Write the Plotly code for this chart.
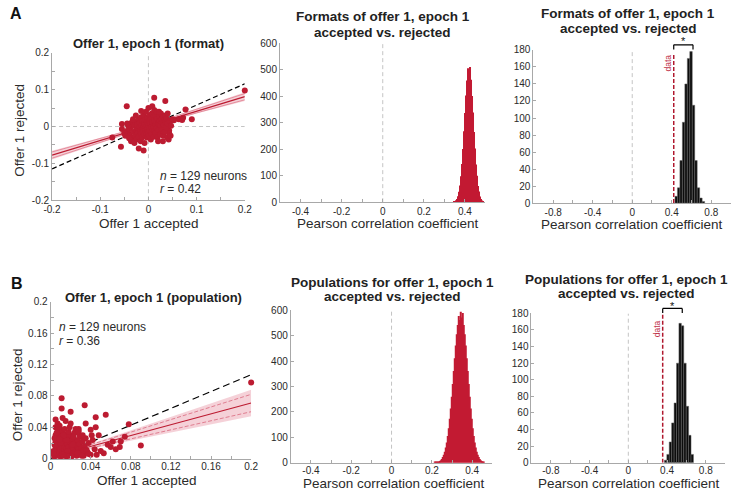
import plotly.graph_objects as go

W, H = 740, 497
FONT = "Liberation Sans, Arial, sans-serif"
RED = "#BC1B31"
HRED = "#C21A33"
BAND = "rgba(220, 90, 115, 0.28)"
AXC = "#a8a8a8"
TXT = "#2a2a2a"

# ---------------- data ----------------
# Panel A scatter (format), offer 1 accepted vs rejected
scA_x = [0.200, -0.045, 0.012, 0.035, 0.090, 0.077, -0.075, -0.057, -0.020, -0.010,
         -0.055, -0.055, 0.063, 0.070, 0.053, 0.043, 0.043, 0.042, 0.030, 0.072,
         -0.040, -0.038, -0.035, -0.033, -0.030, -0.030, -0.028, -0.027, -0.025, -0.025,
         -0.023, -0.022, -0.020, -0.020, -0.019, -0.018, -0.017, -0.016, -0.015, -0.015,
         -0.014, -0.013, -0.012, -0.012, -0.011, -0.010, -0.010, -0.009, -0.008, -0.008,
         -0.007, -0.006, -0.005, -0.005, -0.004, -0.003, -0.003, -0.002, -0.002, -0.001,
         0.000, 0.000, 0.001, 0.001, 0.002, 0.003, 0.003, 0.004, 0.005, 0.005,
         0.006, 0.007, 0.007, 0.008, 0.009, 0.010, 0.010, 0.011, 0.012, 0.012,
         0.013, 0.014, 0.015, 0.015, 0.016, 0.017, 0.018, 0.018, 0.019, 0.020,
         0.021, 0.022, 0.023, 0.024, 0.025, 0.026, 0.027, 0.028, 0.029, 0.030,
         0.031, 0.032, 0.033, 0.034, 0.035, 0.036, 0.037, 0.038, 0.039, 0.040,
         -0.045, -0.042, -0.048, -0.036, -0.032, -0.026, -0.044, 0.045, 0.047, 0.046,
         -0.050, 0.040, -0.029, 0.020, 0.008, -0.015, 0.050, -0.040, 0.022]
scA_y = [0.098, 0.055, 0.078, 0.069, 0.020, 0.046, -0.030, -0.055, -0.060, -0.065,
         0.007, -0.007, 0.020, 0.018, 0.017, -0.011, -0.018, -0.035, -0.040, 0.024,
         -0.020, -0.005, 0.010, -0.030, -0.015, 0.002, -0.025, 0.012, -0.008, -0.035,
         0.005, -0.018, 0.020, -0.028, -0.002, 0.010, -0.012, -0.040, 0.025, -0.020,
         0.003, -0.030, 0.015, -0.008, -0.015, 0.030, -0.002, -0.022, 0.008, -0.045,
         0.018, -0.010, 0.040, -0.018, 0.002, -0.030, 0.012, 0.025, -0.006, -0.015,
         0.005, 0.050, -0.025, 0.015, -0.004, 0.030, -0.012, 0.008, -0.035, 0.020,
         -0.002, 0.035, -0.020, 0.012, -0.008, 0.025, 0.000, -0.028, 0.018, 0.045,
         -0.012, 0.006, 0.030, -0.018, 0.015, -0.004, 0.040, 0.022, -0.030, 0.008,
         -0.010, 0.028, 0.015, -0.022, 0.002, 0.035, 0.020, -0.008, 0.010, 0.025,
         -0.025, 0.005, 0.018, -0.015, 0.030, 0.012, -0.003, 0.022, -0.030, 0.008,
         -0.012, 0.002, -0.025, -0.040, 0.020, 0.030, 0.008, 0.015, 0.002, -0.025,
         -0.018, 0.035, -0.045, -0.040, 0.055, 0.042, 0.020, -0.032, 0.040]

# Panel B scatter (population)
scB_x = [0.200, 0.011, 0.011, 0.020, 0.034, 0.005, 0.045, 0.055, 0.040, 0.025,
         0.028, 0.078, 0.074, 0.062, 0.069, 0.070, 0.090, 0.060, 0.053, 0.046,
         0.037, 0.040, 0.033, 0.048, 0.045, 0.035, 0.005, 0.030, 0.038, 0.042,
         0.004, 0.005, 0.005, 0.005, 0.005, 0.006, 0.006, 0.006, 0.007, 0.007,
         0.008, 0.008, 0.008, 0.008, 0.009, 0.009, 0.009, 0.010, 0.010, 0.010,
         0.011, 0.011, 0.011, 0.012, 0.012, 0.012, 0.013, 0.013, 0.013, 0.014,
         0.014, 0.015, 0.015, 0.015, 0.016, 0.016, 0.017, 0.017, 0.018, 0.018,
         0.019, 0.019, 0.020, 0.020, 0.021, 0.022, 0.022, 0.023, 0.024, 0.024,
         0.025, 0.026, 0.026, 0.027, 0.028, 0.029, 0.030, 0.031, 0.032, 0.033,
         0.004, 0.004, 0.006, 0.007, 0.009, 0.012, 0.014, 0.016, 0.018, 0.021,
         0.023, 0.025, 0.027, 0.029, 0.031, 0.034, 0.035, 0.036, 0.038, 0.003,
         0.010, 0.013, 0.017, 0.019, 0.022, 0.028, 0.032, 0.015, 0.009, 0.006,
         0.044, 0.050, 0.041, 0.057, 0.065, 0.012, 0.020, 0.003, 0.008]
scB_y = [0.097, 0.077, 0.064, 0.060, 0.068, 0.050, 0.053, 0.056, 0.037, 0.036,
         0.038, 0.044, 0.028, 0.022, 0.015, 0.022, 0.017, 0.015, 0.007, 0.005,
         0.008, 0.005, 0.004, 0.030, 0.040, 0.045, 0.040, 0.028, 0.020, 0.024,
         0.003, 0.008, 0.015, 0.022, 0.030, 0.005, 0.012, 0.026, 0.018, 0.034,
         0.004, 0.010, 0.021, 0.028, 0.007, 0.015, 0.032, 0.003, 0.012, 0.024,
         0.006, 0.018, 0.029, 0.009, 0.014, 0.036, 0.004, 0.020, 0.026, 0.011,
         0.016, 0.007, 0.023, 0.031, 0.003, 0.013, 0.019, 0.027, 0.008, 0.015,
         0.005, 0.022, 0.011, 0.030, 0.017, 0.006, 0.025, 0.013, 0.020, 0.033,
         0.009, 0.016, 0.004, 0.024, 0.012, 0.019, 0.006, 0.014, 0.022, 0.010,
         0.018, 0.026, 0.040, 0.045, 0.042, 0.005, 0.038, 0.024, 0.034, 0.003,
         0.028, 0.038, 0.007, 0.030, 0.004, 0.016, 0.026, 0.011, 0.006, 0.010,
         0.020, 0.030, 0.010, 0.040, 0.018, 0.035, 0.030, 0.048, 0.025, 0.033,
         0.012, 0.010, 0.030, 0.018, 0.012, 0.052, 0.045, 0.006, 0.040]

# Regression fits
fitA_x = [-0.2, -0.1, 0.0, 0.1, 0.2]
fitA_y = [-0.0775, -0.038, 0.002, 0.042, 0.081]
fitA_hw = [0.012, 0.007, 0.003, 0.007, 0.012]
unityA_x = [-0.2, 0.2]
unityA_y = [-0.115, 0.116]

fitB_x = [0.0, 0.025, 0.05, 0.1, 0.15, 0.2]
fitB_y = [0.002, 0.0106, 0.0193, 0.0365, 0.0538, 0.071]
fitB_hw = [0.004, 0.003, 0.004, 0.008, 0.0125, 0.017]
unityB_x = [0.0, 0.2]
unityB_y = [0.0, 0.107]

# Panel A middle histogram (Pearson r, formats)
hA_x = [0.345, 0.350, 0.355, 0.360, 0.365, 0.370, 0.375, 0.380, 0.385, 0.390,
        0.395, 0.400, 0.405, 0.410, 0.415, 0.420, 0.425, 0.430, 0.435, 0.440,
        0.445, 0.450, 0.455, 0.460, 0.465, 0.470, 0.475, 0.480, 0.485, 0.490]
hA_y = [2, 3, 7, 12, 22, 39, 63, 98, 144, 200,
        267, 336, 402, 459, 505, 496, 510, 462, 400, 338,
        265, 202, 142, 100, 61, 40, 21, 12, 6, 3]

# Panel A right histogram (shuffled control)
cA_x = [0.445, 0.470, 0.495, 0.520, 0.545, 0.570, 0.595, 0.620, 0.645, 0.670, 0.695, 0.720]
cA_y = [8, 18, 50, 95, 140, 170, 178, 115, 50, 18, 6, 2]
dataA_r = 0.42
sigA_end = 0.615

# Panel B middle histogram (Pearson r, populations)
hB_x = [0.215, 0.220, 0.225, 0.230, 0.235, 0.240, 0.245, 0.250, 0.255, 0.260,
        0.265, 0.270, 0.275, 0.280, 0.285, 0.290, 0.295, 0.300, 0.305, 0.310,
        0.315, 0.320, 0.325, 0.330, 0.335, 0.340, 0.345, 0.350, 0.355, 0.360,
        0.365, 0.370, 0.375, 0.380, 0.385, 0.390, 0.395, 0.400, 0.405, 0.410,
        0.415, 0.420, 0.425, 0.430, 0.435, 0.440, 0.445, 0.450, 0.455, 0.460]
hB_y = [1, 1, 2, 3, 4, 7, 10, 15, 22, 31,
        43, 60, 80, 105, 136, 173, 214, 260, 310, 361,
        412, 462, 506, 543, 578, 562, 595, 572, 590, 543,
        506, 462, 412, 361, 310, 260, 214, 173, 136, 105,
        80, 60, 43, 31, 22, 15, 10, 7, 4, 2]

# Panel B right histogram (shuffled control)
cB_x = [0.385, 0.410, 0.435, 0.460, 0.485, 0.510, 0.535, 0.560, 0.585, 0.610, 0.635, 0.660]
cB_y = [3, 10, 25, 48, 72, 120, 168, 165, 120, 68, 33, 10]
dataB_r = 0.355
sigB_end = 0.557

# ---------------- layout helpers ----------------
def px_x(p):
    return p / W

def px_y(p):
    return 1 - p / H

# pixel boxes (left, right, top, bottom)
BOX = {
    1: (44, 241, 48, 199),
    2: (277, 487, 38, 201),
    3: (536, 738, 45, 202),
    4: (42.5, 247.5, 303, 464),
    5: (288, 494, 312, 468),
    6: (534, 732, 315, 468),
}

def mk_axes(i, xr, yr, xt, xl, yt, yl, xstandoff=0):
    l, r, t, b = BOX[i]
    common = dict(showline=True, linecolor=AXC, linewidth=1, ticks="inside", ticklen=3,
                  tickcolor=AXC, showgrid=False, zeroline=False, fixedrange=True,
                  tickfont=dict(size=10, color=TXT, family=FONT))
    xa = dict(domain=[px_x(l), px_x(r)], range=xr, tickvals=xt, ticktext=xl,
              anchor="y" + ("" if i == 1 else str(i)), ticklabelstandoff=xstandoff, **common)
    ya = dict(domain=[px_y(b), px_y(t)], range=yr, tickvals=yt, ticktext=yl,
              anchor="x" + ("" if i == 1 else str(i)), **common)
    return xa, ya

fig = go.Figure()

def ref(i):
    s = "" if i == 1 else str(i)
    return "x" + s, "y" + s

# ---- A scatter ----
xa, ya = ref(1)
lowA = [y - h for y, h in zip(fitA_y, fitA_hw)]
upA = [y + h for y, h in zip(fitA_y, fitA_hw)]
fig.add_trace(go.Scatter(x=fitA_x, y=lowA, mode="lines", line=dict(width=0), xaxis=xa, yaxis=ya, hoverinfo="skip"))
fig.add_trace(go.Scatter(x=fitA_x, y=upA, mode="lines", line=dict(width=0), fill="tonexty",
                         fillcolor=BAND, xaxis=xa, yaxis=ya, hoverinfo="skip"))
fig.add_trace(go.Scatter(x=fitA_x, y=[y - 0.7 * h for y, h in zip(fitA_y, fitA_hw)], mode="lines",
                         line=dict(width=0.8, color="#e07a8c"), xaxis=xa, yaxis=ya))
fig.add_trace(go.Scatter(x=fitA_x, y=[y + 0.7 * h for y, h in zip(fitA_y, fitA_hw)], mode="lines",
                         line=dict(width=0.8, color="#e07a8c"), xaxis=xa, yaxis=ya))
fig.add_trace(go.Scatter(x=unityA_x, y=unityA_y, mode="lines",
                         line=dict(width=1.2, color="black", dash="5px,3px"), xaxis=xa, yaxis=ya))
fig.add_trace(go.Scatter(x=scA_x, y=scA_y, mode="markers", cliponaxis=False,
                         marker=dict(size=6, color=RED), xaxis=xa, yaxis=ya))
fig.add_trace(go.Scatter(x=fitA_x, y=fitA_y, mode="lines", line=dict(width=1.2, color=RED),
                         xaxis=xa, yaxis=ya))

# ---- B scatter ----
xa, ya = ref(4)
lowB = [y - h for y, h in zip(fitB_y, fitB_hw)]
upB = [y + h for y, h in zip(fitB_y, fitB_hw)]
fig.add_trace(go.Scatter(x=fitB_x, y=lowB, mode="lines", line=dict(width=0), xaxis=xa, yaxis=ya, hoverinfo="skip"))
fig.add_trace(go.Scatter(x=fitB_x, y=upB, mode="lines", line=dict(width=0), fill="tonexty",
                         fillcolor=BAND, xaxis=xa, yaxis=ya, hoverinfo="skip"))
fig.add_trace(go.Scatter(x=fitB_x, y=[y - 0.65 * h for y, h in zip(fitB_y, fitB_hw)], mode="lines",
                         line=dict(width=0.8, color="#d9687e", dash="4px,2px"), xaxis=xa, yaxis=ya))
fig.add_trace(go.Scatter(x=fitB_x, y=[y + 0.65 * h for y, h in zip(fitB_y, fitB_hw)], mode="lines",
                         line=dict(width=0.8, color="#d9687e", dash="4px,2px"), xaxis=xa, yaxis=ya))
fig.add_trace(go.Scatter(x=unityB_x, y=unityB_y, mode="lines",
                         line=dict(width=1.2, color="black", dash="7px,4px"), xaxis=xa, yaxis=ya))
fig.add_trace(go.Scatter(x=scB_x, y=scB_y, mode="markers", cliponaxis=False,
                         marker=dict(size=6, color=RED), xaxis=xa, yaxis=ya))
fig.add_trace(go.Scatter(x=fitB_x, y=fitB_y, mode="lines", line=dict(width=1.2, color=RED),
                         xaxis=xa, yaxis=ya))

# ---- histograms ----
xa, ya = ref(2)
fig.add_trace(go.Bar(x=hA_x, y=hA_y, width=0.005, marker=dict(color=HRED, line=dict(width=0)),
                     xaxis=xa, yaxis=ya))
xa, ya = ref(5)
fig.add_trace(go.Bar(x=hB_x, y=hB_y, width=0.005, marker=dict(color=HRED, line=dict(width=0)),
                     xaxis=xa, yaxis=ya))
xa, ya = ref(3)
fig.add_trace(go.Bar(x=cA_x, y=cA_y, width=0.025, marker=dict(color="#0c0c0c", line=dict(width=0.5, color="#666")),
                     xaxis=xa, yaxis=ya))
xa, ya = ref(6)
fig.add_trace(go.Bar(x=cB_x, y=cB_y, width=0.025, marker=dict(color="#0c0c0c", line=dict(width=0.5, color="#666")),
                     xaxis=xa, yaxis=ya))

# ---- axes ----
lay = {}
ax1 = mk_axes(1, [-0.2, 0.2], [-0.2, 0.2],
              [-0.2, -0.15, -0.1, -0.05, 0, 0.05, 0.1, 0.15, 0.2],
              ["-0.2", "", "-0.1", "", "0", "", "0.1", "", "0.2"],
              [-0.2, -0.15, -0.1, -0.05, 0, 0.05, 0.1, 0.15, 0.2],
              ["-0.2", "", "-0.1", "", "0", "", "0.1", "", "0.2"])
ax2 = mk_axes(2, [-0.5, 0.5], [0, 600],
              [-0.5, -0.4, -0.3, -0.2, -0.1, 0, 0.1, 0.2, 0.3, 0.4, 0.5],
              ["", "-0.4", "", "-0.2", "", "0", "", "0.2", "", "0.4", ""],
              [0, 100, 200, 300, 400, 500, 600],
              ["0", "100", "200", "300", "400", "500", "600"])
ax3 = mk_axes(3, [-1, 1], [0, 180],
              [-1, -0.8, -0.6, -0.4, -0.2, 0, 0.2, 0.4, 0.6, 0.8, 1],
              ["", "-0.8", "", "-0.4", "", "0", "", "0.4", "", "0.8", ""],
              list(range(0, 181, 20)), [str(v) for v in range(0, 181, 20)])
ax4 = mk_axes(4, [0, 0.2], [0, 0.2],
              [0, 0.02, 0.04, 0.06, 0.08, 0.1, 0.12, 0.14, 0.16, 0.18, 0.2],
              ["0", "", "0.04", "", "0.08", "", "0.12", "", "0.16", "", "0.2"],
              [0, 0.02, 0.04, 0.06, 0.08, 0.1, 0.12, 0.14, 0.16, 0.18, 0.2],
              ["0", "", "0.04", "", "0.08", "", "0.12", "", "0.16", "", "0.2"], xstandoff=-2)
ax5 = mk_axes(5, [-0.5, 0.5], [0, 600],
              [-0.5, -0.4, -0.3, -0.2, -0.1, 0, 0.1, 0.2, 0.3, 0.4, 0.5],
              ["", "-0.4", "", "-0.2", "", "0", "", "0.2", "", "0.4", ""],
              [0, 100, 200, 300, 400, 500, 600],
              ["0", "100", "200", "300", "400", "500", "600"], xstandoff=-2)
ax6 = mk_axes(6, [-1, 1], [0, 180],
              [-1, -0.8, -0.6, -0.4, -0.2, 0, 0.2, 0.4, 0.6, 0.8, 1],
              ["", "-0.8", "", "-0.4", "", "0", "", "0.4", "", "0.8", ""],
              list(range(0, 181, 20)), [str(v) for v in range(0, 181, 20)], xstandoff=-2)
for i, (xa_, ya_) in enumerate([ax1, ax2, ax3, ax4, ax5, ax6], start=1):
    s = "" if i == 1 else str(i)
    lay["xaxis" + s] = xa_
    lay["yaxis" + s] = ya_

# ---- shapes ----
shapes = []
GRAYD = dict(color="#c4c4c4", width=1, dash="4px,3px")
shapes.append(dict(type="line", xref="x", yref="y", x0=0, x1=0, y0=-0.2, y1=0.2, line=GRAYD, layer="below"))
shapes.append(dict(type="line", xref="x", yref="y", x0=-0.2, x1=0.2, y0=0, y1=0, line=GRAYD, layer="below"))
shapes.append(dict(type="line", xref="x2", yref="y2", x0=0, x1=0, y0=0, y1=600, line=GRAYD, layer="below"))
shapes.append(dict(type="line", xref="x5", yref="y5", x0=0, x1=0, y0=0, y1=600, line=GRAYD, layer="below"))
shapes.append(dict(type="line", xref="x3", yref="y3", x0=0, x1=0, y0=0, y1=180, line=GRAYD, layer="below"))
shapes.append(dict(type="line", xref="x6", yref="y6", x0=0, x1=0, y0=0, y1=180, line=GRAYD, layer="below"))

DATAL = dict(color="#B0182E", width=1.5, dash="4px,2px")
shapes.append(dict(type="line", xref="x3", yref="y3", x0=dataA_r, x1=dataA_r, y0=0, y1=175, line=DATAL))
shapes.append(dict(type="line", xref="x6", yref="y6", x0=dataB_r, x1=dataB_r, y0=0, y1=180, line=DATAL))

def cnt2paper(i, c, top=180.0):
    l, r, t, b = BOX[i]
    y0, y1 = px_y(b), px_y(t)
    return y0 + c / top * (y1 - y0)

for i, x0, x1 in [(3, dataA_r, sigA_end), (6, dataB_r, sigB_end)]:
    yh = cnt2paper(i, 186)
    yl = cnt2paper(i, 180.5)
    xr = "x" + str(i)
    for (a, b_, c, d) in [(x0, yl, x0, yh), (x0, yh, x1, yh), (x1, yh, x1, yl)]:
        shapes.append(dict(type="line", xref=xr, yref="paper", x0=a, y0=b_, x1=c, y1=d,
                           line=dict(color="black", width=1.2)))

# ---- annotations ----
anns = []

def ann(text, x, y, size, bold=False, xanchor="center", yanchor="middle", angle=0, color=TXT,
        xref="paper", yref="paper", raw=False):
    if bold:
        text = "<b>" + text + "</b>"
    if not raw:
        if xref == "paper":
            x = px_x(x)
        if yref == "paper":
            y = px_y(y)
    anns.append(dict(text=text, x=x, y=y, xref=xref, yref=yref, xanchor=xanchor, yanchor=yanchor,
                     showarrow=False, textangle=angle, font=dict(size=size, color=color, family=FONT)))

ann("A", 7, 8, 16, bold=True, color="#111")
ann("B", 8, 284, 16, bold=True, color="#111")

ann("Offer 1, epoch 1 (format)", 143, 38, 13, bold=True, color="#222")
ann("Formats of offer 1, epoch 1", 382, 11, 13.5, bold=True, color="#222")
ann("accepted vs. rejected", 382, 27, 13.5, bold=True, color="#222")
ann("Formats of offer 1, epoch 1", 633, 8, 13.5, bold=True, color="#222")
ann("accepted vs. rejected", 633, 23, 13.5, bold=True, color="#222")
ann("Offer 1, epoch 1 (population)", 148, 299, 13, bold=True, color="#222")
ann("Populations for offer 1, epoch 1", 392, 283, 13.5, bold=True, color="#222")
ann("accepted vs. rejected", 392, 298, 13.5, bold=True, color="#222")
ann("Populations for offer 1, epoch 1", 631, 280, 13.5, bold=True, color="#222")
ann("accepted vs. rejected", 631, 295, 13.5, bold=True, color="#222")

ann("Offer 1 accepted", 143, 223, 13.5)
ann("Offer 1 rejected", 11, 127, 13.5, angle=-90)
ann("Offer 1 accepted", 141, 486, 13.5)
ann("Offer 1 rejected", 9, 398, 13.5, angle=-90)
ann("Pearson correlation coefficient", 387, 223, 13.5)
ann("Pearson correlation coefficient", 637, 224, 13.5)
ann("Pearson correlation coefficient", 393, 489.5, 13.5)
ann("Pearson correlation coefficient", 634, 489.5, 13.5)

ann("<i>n</i> = 129 neurons", 152, 174, 12, xanchor="left")
ann("<i>r</i> = 0.42", 152, 188, 12, xanchor="left")
ann("<i>n</i> = 129 neurons", 49, 329, 12, xanchor="left")
ann("<i>r</i> = 0.36", 49, 343, 12, xanchor="left")

# data labels and stars
ann("data", dataA_r - 0.06, cnt2paper(3, 165), 8.5, angle=-90, color="#C0334A", xref="x3", raw=True)
ann("data", dataB_r - 0.06, cnt2paper(6, 162), 8.5, angle=-90, color="#C0334A", xref="x6", raw=True)
ann("*", (dataA_r + sigA_end) / 2, cnt2paper(3, 190), 11, xref="x3", color="#111", raw=True)
ann("*", (dataB_r + sigB_end) / 2, cnt2paper(6, 189), 11, xref="x6", color="#111", raw=True)

fig.update_layout(
    width=W, height=H, margin=dict(l=0, r=0, t=0, b=0),
    paper_bgcolor="white", plot_bgcolor="white", showlegend=False,
    barmode="overlay", font=dict(family=FONT, color=TXT),
    shapes=shapes, annotations=anns, **lay,
)

fig.write_html("out.html", config={"displayModeBar": False},
               post_script="document.body.style.margin='0';")
